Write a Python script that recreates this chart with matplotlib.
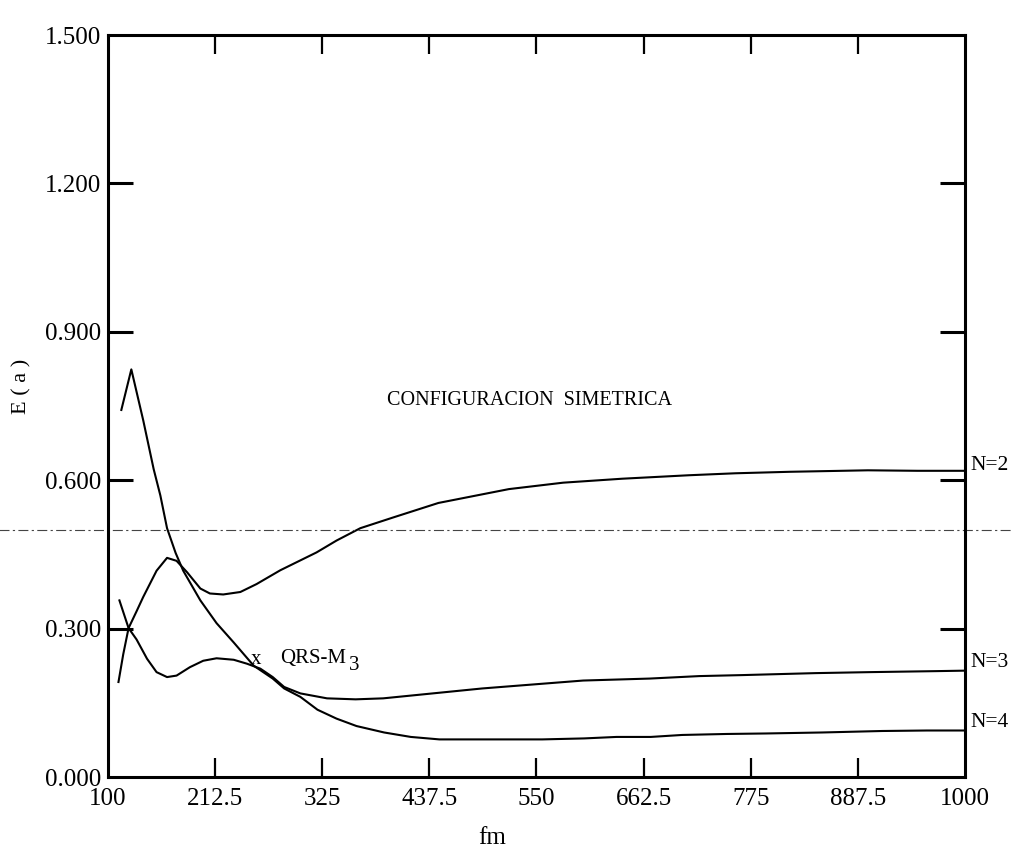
import numpy as np
import matplotlib
matplotlib.use('Agg')
import matplotlib.pyplot as plt

plt.rcParams['font.family'] = ['Liberation Serif', 'DejaVu Serif']

# curves (fm, E(a))
fm_n2 = [111, 116, 121.6, 130, 137, 151, 162, 172, 183, 197, 207, 221, 239, 256,
         281, 300, 319, 340, 365, 400, 447, 521, 578, 640, 710, 759, 816, 898, 950, 1000]
e_n2 = [0.192, 0.248, 0.301, 0.335, 0.364, 0.417, 0.443, 0.437, 0.414, 0.381, 0.371,
        0.369, 0.374, 0.390, 0.418, 0.436, 0.454, 0.478, 0.503, 0.525, 0.554, 0.582,
        0.595, 0.603, 0.610, 0.614, 0.617, 0.620, 0.619, 0.619]

fm_n3 = [112, 121.6, 130, 141, 151, 162, 172, 186, 200, 214, 232, 246, 260, 273,
         285, 302, 330, 360, 389, 441, 493, 546, 599, 669, 721, 766, 843, 900, 969, 1000]
e_n3 = [0.357, 0.301, 0.278, 0.239, 0.212, 0.202, 0.205, 0.222, 0.235, 0.240, 0.237,
        0.229, 0.219, 0.202, 0.182, 0.169, 0.159, 0.157, 0.159, 0.169, 0.179, 0.187,
        0.195, 0.199, 0.204, 0.206, 0.210, 0.212, 0.214, 0.215]

fm_n4 = [114, 124.5, 137, 148, 155, 162, 171, 179, 197, 214, 232, 253, 273, 285,
         302, 320, 340, 361, 390, 418, 448, 500, 556, 600, 634, 670, 703, 750, 791,
         850, 913, 960, 1000]
e_n4 = [0.742, 0.824, 0.721, 0.622, 0.569, 0.503, 0.453, 0.417, 0.357, 0.311, 0.272,
        0.225, 0.199, 0.179, 0.162, 0.136, 0.118, 0.103, 0.090, 0.081, 0.076, 0.076,
        0.076, 0.078, 0.081, 0.081, 0.085, 0.087, 0.088, 0.090, 0.093, 0.094, 0.094]

curve_labels = ['N=2', 'N=3', 'N=4']
label_pos = [0.630, 0.232, 0.110]

xticks = [100, 212.5, 325, 437.5, 550, 662.5, 775, 887.5, 1000]
xtick_labels = ['100', '212.5', '325', '437.5', '550', '662.5', '775', '887.5', '1000']
yticks = [0.0, 0.3, 0.6, 0.9, 1.2, 1.5]
ytick_labels = ['0.000', '0.300', '0.600', '0.900', '1.200', '1.500']

fig = plt.figure(figsize=(10.12, 8.6), dpi=100)
ax = fig.add_axes([108 / 1012, 83 / 860, 857 / 1012, 742 / 860])

for fm, e in [(fm_n2, e_n2), (fm_n3, e_n3), (fm_n4, e_n4)]:
    ax.plot(fm, e, color='black', lw=1.5)

# dash-dot reference line across the whole sheet
ax.plot([-0.13, 1.06], [0.5, 0.5], transform=ax.get_yaxis_transform(),
        color='#444444', lw=0.8, ls=(0, (9, 3, 2, 3)), clip_on=False)

ax.set_xlim(100, 1000)
ax.set_ylim(0, 1.5)

ax.set_xticks(xticks)
ax.set_xticklabels(xtick_labels, fontsize=18)
ax.set_yticks(yticks)
ax.set_yticklabels(ytick_labels, fontsize=18)

ax.tick_params(axis='y', which='both', direction='in', length=18, width=2.2,
               left=True, right=True, pad=5)
ax.tick_params(axis='x', which='both', direction='in', length=14, width=1.6,
               top=True, bottom=True, pad=8)

# hide ticks that sit on the frame corners
for t in ax.yaxis.get_major_ticks():
    if t.get_loc() in (0.0, 1.5):
        t.tick1line.set_visible(False)
        t.tick2line.set_visible(False)
for t in ax.xaxis.get_major_ticks():
    if t.get_loc() in (100, 1000):
        t.tick1line.set_visible(False)
        t.tick2line.set_visible(False)

for s in ax.spines.values():
    s.set_linewidth(2.2)

ax.set_xlabel('fm', fontsize=18, va='center')
ax.xaxis.set_label_coords(0.448, -0.082)
ax.set_ylabel('E ( a )', fontsize=16, va='center')
ax.yaxis.set_label_coords(-0.1, 0.527)

ax.text(393, 0.761, 'CONFIGURACION  SIMETRICA', fontsize=14.5, ha='left', va='center')
ax.text(256, 0.238, 'x', fontsize=15, ha='center', va='center')
qrs = ax.text(281, 0.240, 'QRS-M', fontsize=15, ha='left', va='center')
# subscript drawn full size, just right of and below the main label
ax.annotate('3', xy=(1.0, 0.0), xycoords=qrs, xytext=(2, 2),
            textcoords='offset points', fontsize=15, ha='left', va='center')

for lab, y in zip(curve_labels, label_pos):
    ax.text(1.006, y, lab, transform=ax.get_yaxis_transform(), fontsize=15.5,
            ha='left', va='center')

fig.savefig('out.png', dpi=100)
